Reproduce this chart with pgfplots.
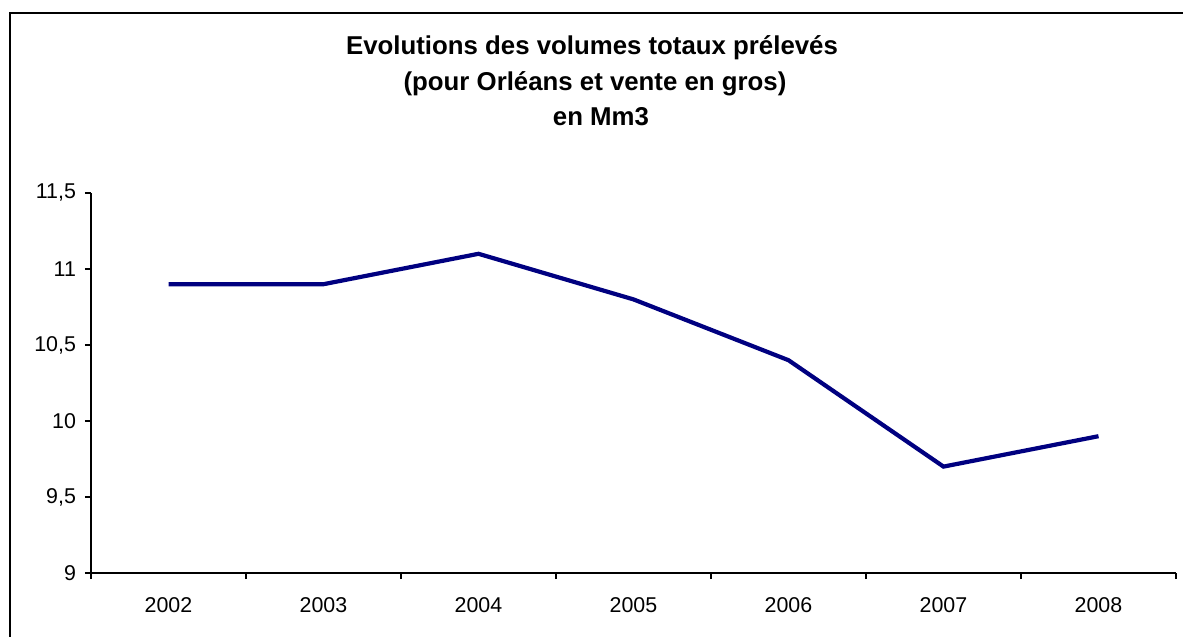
\documentclass[border=0pt]{standalone}
\usepackage{pgfplots}
\pgfplotsset{compat=1.18}
\usepackage{fontspec}
\setmainfont{Liberation Sans}
\definecolor{navyline}{RGB}{0,0,128}
\begin{document}
\begin{tikzpicture}
\useasboundingbox (0,0) rectangle (591.5pt,318.5pt);
% outer chart frame (only left and top visible in the crop)
\draw[black, line width=0.6pt] (5pt,0pt) -- (5pt,312pt) -- (591.5pt,312pt);
% title
\node[anchor=base, inner sep=0pt, font=\fontsize{12.9}{15}\selectfont\bfseries] at (296pt,291pt) {Evolutions des volumes totaux prélevés};
\node[anchor=base, inner sep=0pt, font=\fontsize{12.9}{15}\selectfont\bfseries] at (297.5pt,273pt) {(pour Orléans et vente en gros)};
\node[anchor=base, inner sep=0pt, font=\fontsize{12.9}{15}\selectfont\bfseries] at (300.5pt,255.5pt) {en Mm3};
\begin{axis}[
  at={(45.5pt,32pt)}, anchor=south west,
  scale only axis, width=542.5pt, height=190pt,
  xmin=-0.5, xmax=6.5, ymin=9, ymax=11.5,
  axis x line=bottom, axis y line=left,
  axis line style={-, line width=0.6pt, black},
  tick align=outside,
  major tick length=3pt,
  tick style={line width=0.6pt, black},
  xtick={-0.5,0.5,...,6.5}, xticklabels={},
  extra x ticks={0,1,2,3,4,5,6},
  extra x tick labels={2002,2003,2004,2005,2006,2007,2008},
  extra x tick style={major tick length=0pt, xticklabel style={anchor=base, yshift=-19.5pt, inner sep=0pt}},
  ytick={9,9.5,...,11.5},
  /pgf/number format/assume math mode=true,
  /pgf/number format/use comma,
  /pgf/number format/fixed,
  ticklabel style={font=\fontsize{10.7}{12}\selectfont},
  yticklabel style={xshift=-1pt},
  clip=false,
]
\addplot[navyline, line width=2.1pt, line join=miter, mark=none] coordinates {
(0,10.9) (1,10.9) (2,11.1) (3,10.8) (4,10.4) (5,9.7) (6,9.9)
};
\end{axis}
\end{tikzpicture}
\end{document}
